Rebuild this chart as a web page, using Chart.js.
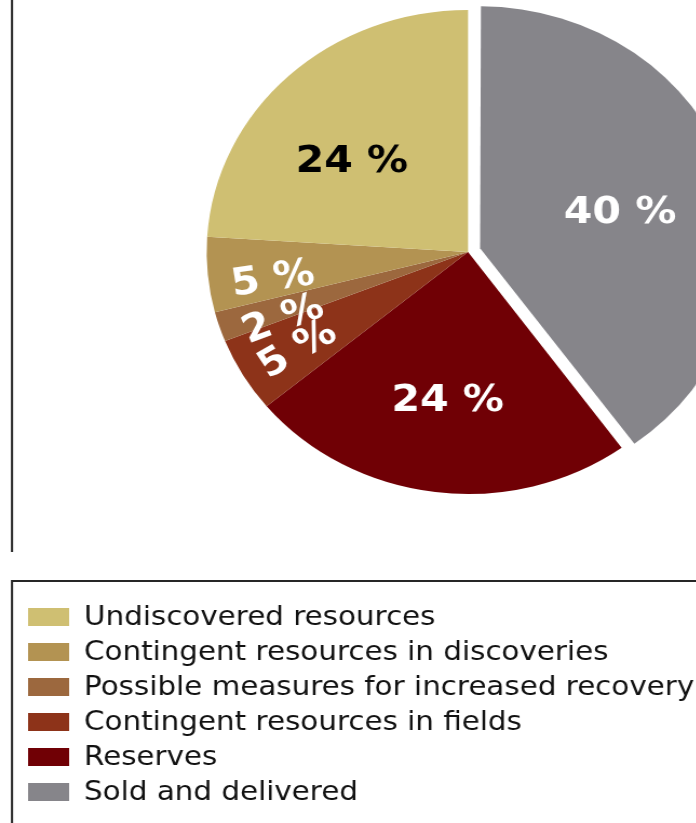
<!DOCTYPE html>
<html>
<head>
<meta charset="utf-8">
<script src="https://cdn.jsdelivr.net/npm/chart.js@4/dist/chart.umd.min.js"></script>
<style>
  html, body { margin: 0; padding: 0; background: #fff; }
  #frame { position: absolute; left: 0; top: 0; width: 696px; height: 823px; overflow: hidden; background: #fff; }
  /* the figure is drawn slightly wider than tall */
  #stretch { position: absolute; left: 0; top: 0; width: 700px; height: 823px; transform: scaleX(1.08); transform-origin: 0 0; }
</style>
</head>
<body>
<div id="frame"><div id="stretch"><canvas id="c"></canvas></div></div>
<script>
// Categories in legend order (top to bottom)
const categories = [
  'Undiscovered resources',
  'Contingent resources in discoveries',
  'Possible measures for increased recovery',
  'Contingent resources in fields',
  'Reserves',
  'Sold and delivered'
];
// Share of total resources, percent
const shares = [24, 5, 2, 5, 24, 40];
const sliceColors = ['#cfbf72', '#b39352', '#9c683e', '#8d3319', '#700005', '#86858a'];
const labelColors = ['#000000', '#ffffff', '#ffffff', '#ffffff', '#ffffff', '#ffffff'];

// Label placement inside each slice: angular shift (deg), radius fraction, rotate along radius
const labelPlacement = [
  { shift: -6.8, r: 0.58, rotate: false },
  { shift: -3.4, r: 0.755, rotate: true },
  { shift: -3.7, r: 0.76, rotate: true },
  { shift: -1.3, r: 0.766, rotate: true },
  { shift: 0, r: 0.62, rotate: false },
  { shift: 2.9, r: 0.555, rotate: false }
];

// Slices run clockwise from 12 o'clock, starting with "Sold and delivered"
const drawOrder = categories.map((_, i) => i).reverse();
const PIE_RADIUS = 242;
const PIE_OFFSET = 47;

const FONT = '"DejaVu Sans", Verdana, sans-serif';

// Chart.js grows an offset arc by offset/4 * (1 - sin(circumference)); undo that growth
function radiusGrowth(arc) {
  const off = (arc.options.offset || 0) / 4;
  return off * (1 - Math.sin(Math.min(Math.PI, arc.circumference || 0)));
}

const keepRadius = {
  id: 'keepRadius',
  beforeDatasetsDraw(chart) {
    chart.getDatasetMeta(0).data.forEach(arc => {
      arc.outerRadius = PIE_RADIUS - radiusGrowth(arc);
    });
  }
};

const framePlugin = {
  id: 'frames',
  beforeDraw(chart) {
    const ctx = chart.ctx;
    ctx.save();
    ctx.strokeStyle = '#262626';
    ctx.lineWidth = 2;
    // chart panel edge
    ctx.beginPath();
    ctx.moveTo(11.1, -5);
    ctx.lineTo(11.1, 552);
    ctx.stroke();
    // legend panel
    ctx.strokeRect(11.1, 581, chart.width + 20, 300);
    ctx.restore();
  },
  afterDraw(chart) {
    const ctx = chart.ctx;
    ctx.save();
    ctx.font = '27.2px ' + FONT;
    ctx.textBaseline = 'middle';
    ctx.textAlign = 'left';
    categories.forEach((name, i) => {
      const yMid = 617 + i * 35;
      ctx.fillStyle = sliceColors[i];
      ctx.fillRect(26, yMid - 9, 38, 18);
      ctx.fillStyle = '#111111';
      ctx.fillText(name, 77.8, yMid + 1);
    });
    ctx.restore();
  }
};

const sliceLabels = {
  id: 'sliceLabels',
  afterDatasetsDraw(chart) {
    const ctx = chart.ctx;
    const meta = chart.getDatasetMeta(0);
    meta.data.forEach((arc, i) => {
      const k = drawOrder[i];
      const p = arc.getProps(['x', 'y', 'startAngle', 'endAngle'], true);
      const mid = (p.startAngle + p.endAngle) / 2;
      const pull = (arc.options.offset || 0) / 4;
      const lp = labelPlacement[k];
      const a = mid + lp.shift * Math.PI / 180;
      const cx = p.x + Math.cos(mid) * pull + Math.cos(a) * PIE_RADIUS * lp.r;
      const cy = p.y + Math.sin(mid) * pull + Math.sin(a) * PIE_RADIUS * lp.r;
      ctx.save();
      ctx.translate(cx, cy);
      if (lp.rotate) ctx.rotate(a + Math.PI);
      ctx.font = 'bold 38px ' + FONT;
      ctx.fillStyle = labelColors[k];
      ctx.textAlign = 'center';
      ctx.textBaseline = 'middle';
      ctx.fillText(shares[k] + ' %', 0, 0);
      ctx.restore();
    });
  }
};

new Chart(document.getElementById('c'), {
  type: 'pie',
  data: {
    labels: drawOrder.map(i => categories[i]),
    datasets: [{
      data: drawOrder.map(i => shares[i]),
      backgroundColor: drawOrder.map(i => sliceColors[i]),
      borderWidth: 0,
      offset: drawOrder.map(i => (categories[i] === 'Sold and delivered' ? PIE_OFFSET : 0)),
      hoverOffset: 0
    }]
  },
  options: {
    responsive: true,
    maintainAspectRatio: false,
    animation: false,
    radius: PIE_RADIUS,
    rotation: 0,
    layout: { padding: { left: 170, right: 3.3, top: 0, bottom: 319 } },
    plugins: {
      legend: { display: false },
      tooltip: { enabled: false }
    },
    events: []
  },
  plugins: [framePlugin, keepRadius, sliceLabels]
});
</script>
</body>
</html>
